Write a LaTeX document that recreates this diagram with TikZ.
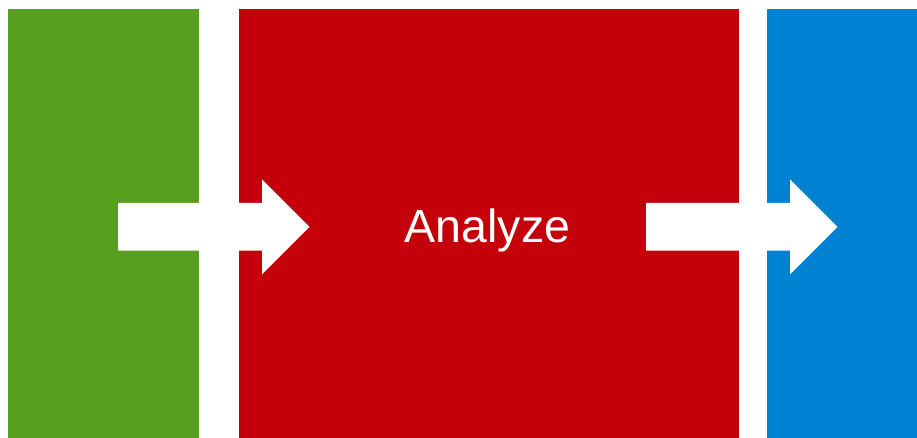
\documentclass[tikz,border=0pt]{standalone}
\usepackage{fontspec}
\setmainfont{Liberation Sans}
\definecolor{cgreen}{HTML}{589E1F}
\definecolor{cred}{HTML}{C4000A}
\definecolor{cblue}{HTML}{0082D2}
\begin{document}
\begin{tikzpicture}[x=1pt,y=-1pt,
  panel/.style={draw=none,inner sep=0pt,outer sep=0pt},
  flow/.style={fill=white,draw=none}]
\useasboundingbox (0,0) rectangle (917,438);
\fill[cgreen] (7.5,9) rectangle (198.5,438);
\fill[cred] (239,9) rectangle (739,438);
\fill[cblue] (767,9) rectangle (917,438);
\fill[flow] (118,203) -- (262,203) -- (262,179.3) -- (309.5,226.8) -- (262,274.3) -- (262,250.7) -- (118,250.7) -- cycle;
\fill[flow] (646,203) -- (790,203) -- (790,179.3) -- (837.5,226.8) -- (790,274.3) -- (790,250.7) -- (646,250.7) -- cycle;
\node[panel,anchor=base,text=white,font=\fontsize{46.5pt}{52pt}\selectfont] (lbl) at (487.5,242) {Analyze};
\end{tikzpicture}
\end{document}
